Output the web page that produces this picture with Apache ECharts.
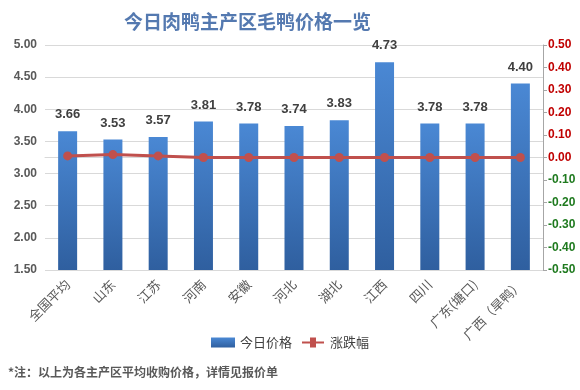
<!DOCTYPE html>
<html><head><meta charset="utf-8">
<script src="https://cdn.jsdelivr.net/npm/echarts@6/dist/echarts.min.js"></script>
<style>html,body{margin:0;padding:0;background:#fff}#c{width:580px;height:390px}</style>
</head><body><div id="c"></div>
<script>
var categories = ['全国平均','山东','江苏','河南','安徽','河北','湖北','江西','四川','广东(塘口)','广西（旱鸭）'];
var prices = [3.66,3.53,3.57,3.81,3.78,3.74,3.83,4.73,3.78,3.78,4.40];
var changes = [0.007,0.013,0.007,0,0,0,0,0,0,0,0];
var leftTicks = [1.5,5.0,0.5];
var rightTicks = [-0.5,0.5,0.1];
var chart = echarts.init(document.getElementById('c'));
var F = '"Noto Sans CJK SC","Microsoft YaHei",sans-serif';
chart.setOption({
  backgroundColor:'#fff',
  animation:false,
  title:{text:'今日肉鸭主产区毛鸭价格一览',left:119,top:7,textStyle:{fontFamily:F,fontSize:19,fontWeight:'bold',color:'#5479b0'}},
  graphic:[{type:'text',left:8,top:366,style:{text:'*注：以上为各主产区平均收购价格，详情见报价单',fontFamily:F,fontSize:12,fontWeight:'bold',fill:'#595959'}}],
  legend:{bottom:36,left:'center',itemWidth:24,itemHeight:10,itemGap:10,textStyle:{fontFamily:F,fontSize:13,color:'#404040'},
    data:[{name:'今日价格',icon:'rect'},{name:'涨跌幅',icon:'path://M0,4H8V0H14V4H22V6H14V10H8V6H0Z'}]},
  grid:{left:45,right:37,top:45,bottom:120},
  xAxis:{type:'category',data:categories,axisTick:{show:false},axisLine:{lineStyle:{color:'#d9d9d9'}},
    axisLabel:{interval:0,rotate:45,color:'#595959',fontFamily:F,fontSize:13,margin:12}},
  yAxis:[{type:'value',min:leftTicks[0],max:leftTicks[1],interval:leftTicks[2],
    axisLabel:{formatter:function(v){return v.toFixed(2);},color:'#595959',fontFamily:'"Liberation Sans",sans-serif',fontSize:12,fontWeight:'bold',margin:8},
    axisLine:{show:false},axisTick:{show:false},splitLine:{lineStyle:{color:'#d9d9d9'}}},
   {type:'value',min:rightTicks[0],max:rightTicks[1],interval:rightTicks[2],position:'right',
    axisLine:{show:true,lineStyle:{color:'#a6a6a6'}},axisTick:{show:true,inside:false,length:4,lineStyle:{color:'#a6a6a6'}},
    splitLine:{show:false},
    axisLabel:{formatter:function(v){return (Math.abs(v)<1e-9?0:v).toFixed(2);},margin:5,fontFamily:'"Liberation Sans",sans-serif',fontSize:12,fontWeight:'bold',
      color:function(v){return Number(v)<-1e-9?'#1f7a1f':'#c00000';}}}],
  series:[
    {name:'今日价格',type:'bar',data:prices,barWidth:19,
     itemStyle:{color:new echarts.graphic.LinearGradient(0,0,0,1,[{offset:0,color:'#4a88d4'},{offset:1,color:'#2f5f9f'}])},
     label:{show:true,position:'top',distance:10,formatter:function(p){return p.value.toFixed(2);},fontFamily:'"Liberation Sans",sans-serif',fontSize:13,fontWeight:'bold',color:'#404040'}},
    {name:'涨跌幅',type:'line',yAxisIndex:1,data:changes,symbol:'circle',symbolSize:9,
     lineStyle:{color:'#c0504d',width:3},itemStyle:{color:'#c0504d'}}
  ]
});
</script></body></html>
